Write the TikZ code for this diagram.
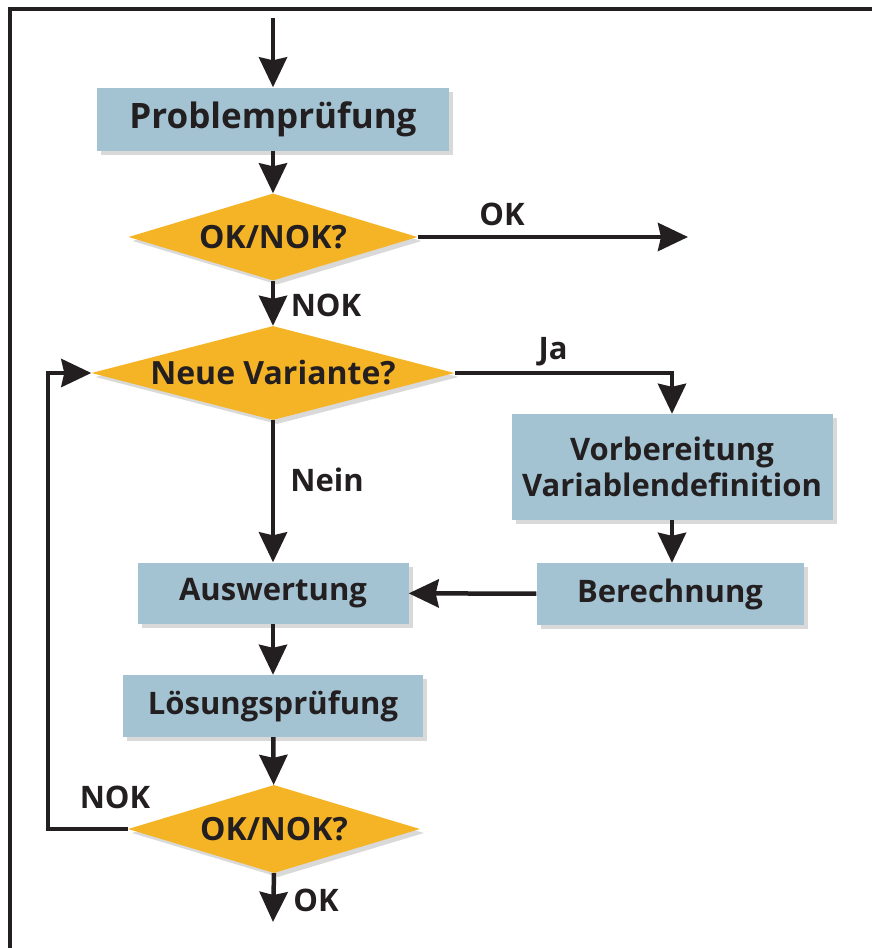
\documentclass[tikz,border=0pt]{standalone}
\usepackage{fontspec}
\setmainfont{Open Sans}
\usetikzlibrary{shapes.geometric,arrows.meta,shadows}

\definecolor{boxblue}{RGB}{163,194,210}
\definecolor{decorange}{RGB}{245,180,38}
\definecolor{ink}{RGB}{35,31,32}

\tikzset{
    stepbox/.style={rectangle, fill=boxblue, inner sep=0pt, align=center,
        font=\fontsize{31}{36}\selectfont\bfseries, text=ink,
        drop shadow={shadow xshift=4pt, shadow yshift=-4pt, opacity=0.3, fill=gray}},
    decision/.style={diamond, fill=decorange, inner sep=-14pt, aspect=3,
        font=\fontsize{32}{36}\selectfont\bfseries, text=ink,
        drop shadow={shadow xshift=4pt, shadow yshift=-4pt, opacity=0.3, fill=gray}},
    flowlabel/.style={font=\fontsize{31}{36}\selectfont\bfseries, text=ink},
    flow/.style={draw=ink, line width=4.5pt, -{Stealth[length=30pt, width=28pt, inset=3pt]}}
}

\begin{document}
\begin{tikzpicture}[x=1pt, y=-1pt]
\useasboundingbox (0,0) rectangle (872,948);

% Frame
\draw[ink, line width=4pt] (9.5,948) -- (9.5,9) -- (872,9);

% Boxes and decisions
\node[stepbox, minimum width=352pt, minimum height=63pt, font=\fontsize{35}{40}\selectfont\bfseries] (pruef) at (273,119) {Problemprüfung};
\node[decision, minimum width=289pt, minimum height=87pt] (ok1) at (273,237) {OK/NOK?};
\node[decision, minimum width=363pt, minimum height=94pt] (neu) at (273,373) {Neue Variante?};
\node[stepbox, minimum width=321pt, minimum height=106pt] (vorb) at (672,467) {Vorbereitung\\Variablendefinition};
\node[stepbox, minimum width=267pt, minimum height=62pt] (rech) at (670,594) {Berechnung};
\node[stepbox, minimum width=271pt, minimum height=61pt] (ausw) at (273,593) {Auswertung};
\node[stepbox, minimum width=300pt, minimum height=62pt] (loes) at (273,706) {Lösungsprüfung};
\node[decision, minimum width=292pt, minimum height=88pt] (ok2) at (274,829) {OK/NOK?};

% Free ends
\coordinate (start) at (273,18);
\coordinate (okend) at (688,237);
\coordinate (fertig) at (273,922);
\coordinate (rueck) at (48,829);

% Connectors
\draw[flow] (start) -- (pruef);
\draw[flow] (pruef) -- (ok1);
\draw[flow] (ok1.east) -- (okend);
\draw[flow] (ok1) -- (neu);
\draw[flow] (neu.east) -| (vorb.north);
\draw[flow] (neu) -- (ausw);
\draw[flow] (vorb.south) -- (vorb.south |- rech.north);
\draw[flow] (rech) -- (ausw);
\draw[flow] (ausw) -- (loes);
\draw[flow] (loes) -- (ok2);
\draw[flow] (ok2.west) -- (rueck) |- (neu.west);
\draw[flow] (ok2.south) -- (fertig);

% Labels
\node[flowlabel] (lok1) at (502,214) {OK};
\node[flowlabel] (lnok1) at (326,305) {NOK};
\node[flowlabel] (lja) at (553,352) {Ja};
\node[flowlabel] (lnein) at (327,480) {Nein};
\node[flowlabel] (lnok2) at (115,797) {NOK};
\node[flowlabel] (lok2) at (316,900) {OK};

\end{tikzpicture}
\end{document}
